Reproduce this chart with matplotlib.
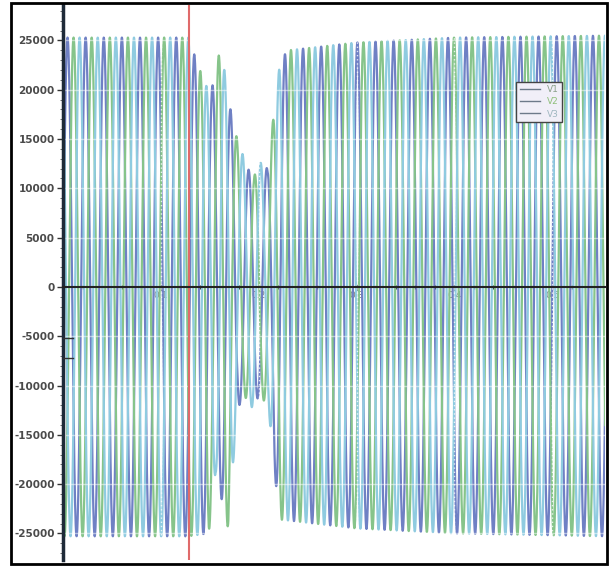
import numpy as np
import matplotlib
matplotlib.use("Agg")
import matplotlib.pyplot as plt
from matplotlib.patches import Rectangle
from matplotlib.ticker import MultipleLocator, FixedLocator

# ---- data ----
series_names = ["V1", "V2", "V3"]
series_colors = ["#6f80c4", "#86c48a", "#8fcbe0"]
phase_deg = [0.0, -120.0, 120.0]
freq_hz = 54.0

# upper (positive peak) envelope keypoints
env_up_t = [0.0, 0.128, 0.140, 0.149, 0.156, 0.161, 0.169, 0.178, 0.189,
            0.195, 0.202, 0.209, 0.215, 0.222, 0.230, 0.300, 0.400, 0.555]
env_up_v = [25300, 25300, 22000, 19800, 21000, 25000, 19000, 15000, 12000,
            11200, 12600, 12000, 17200, 23000, 24000, 24800, 25300, 25500]
# lower (negative peak) envelope keypoints (magnitude)
env_dn_t = [0.0, 0.128, 0.149, 0.156, 0.169, 0.178, 0.185, 0.195, 0.200,
            0.210, 0.215, 0.222, 0.300, 0.400, 0.555]
env_dn_v = [25300, 25300, 25000, 18800, 24600, 12500, 11000, 12500, 11000,
            12000, 18000, 23600, 24500, 25000, 25300]

marker_t = 0.1286
ytick_vals = list(range(-25000, 25001, 5000))
xtick_vals = [0.1, 0.2, 0.3, 0.4, 0.5]

# ---- figure ----
W, H = 611, 567
fig = plt.figure(figsize=(W / 100, H / 100), dpi=100)
ax = fig.add_axes([63 / W, 1 - 560 / H, (605 - 63) / W, (560 - 5) / H])

t = np.arange(0, 0.556, 0.0002)
up = np.interp(t, env_up_t, env_up_v)
dn = np.interp(t, env_dn_t, env_dn_v)
for name, col, ph in zip(series_names, series_colors, phase_deg):
    s = np.sin(2 * np.pi * freq_hz * t + np.deg2rad(ph))
    v = np.where(s >= 0, s * up, s * dn)
    ax.plot(t, v, color=col, lw=1.6, label=name, zorder=2)

ax.set_xlim(0, 0.554)
ax.set_ylim(-27700, 28600)

# grid (white, on top of the curves)
for yv in ytick_vals:
    if yv != 0:
        ax.axhline(yv, color="white", lw=1.0, alpha=0.5, zorder=3)
for xv in xtick_vals:
    ax.axvline(xv, color="white", lw=1.0, ls=(0, (1, 2)), alpha=0.8, zorder=3)

# red marker line
ax.axvline(marker_t, color="#e06a6a", lw=1.5, zorder=4)

# spines
for sp in ["top", "right"]:
    ax.spines[sp].set_visible(False)
ax.spines["left"].set_linewidth(2.5)
ax.spines["left"].set_color("#1e2a38")
ax.spines["left"].set_zorder(5)
ax.spines["bottom"].set_position(("data", 0))
ax.spines["bottom"].set_linewidth(1.5)
ax.spines["bottom"].set_color("#222222")
ax.spines["bottom"].set_zorder(5)

ax.yaxis.set_major_locator(FixedLocator(ytick_vals))
ax.yaxis.set_minor_locator(MultipleLocator(1000))
ax.set_yticklabels([str(v) for v in ytick_vals], fontweight="semibold")
ax.tick_params(axis="y", which="major", direction="out", length=4, width=1,
               color="#333333", labelsize=7.5, labelcolor="#4a4a4a", pad=2)
ax.tick_params(axis="y", which="minor", direction="out", length=2, width=0.6,
               color="#555555")

ax.xaxis.set_major_locator(FixedLocator(xtick_vals))
ax.xaxis.set_minor_locator(MultipleLocator(0.02))
ax.set_xticklabels([f"{v:.1f}" for v in xtick_vals])
ax.tick_params(axis="x", which="major", direction="inout", length=4, width=1,
               color="#333333", labelsize=6.5, labelcolor="#777777", pad=1)
ax.tick_params(axis="x", which="minor", direction="inout", length=3, width=1,
               color="#333333")

# small bracket marks near the left axis
ax.plot([0, 0.010], [-5200, -5200], color="#333333", lw=1, zorder=6, clip_on=False)
ax.plot([0, 0.010], [-7200, -7200], color="#333333", lw=1, zorder=6, clip_on=False)

leg = ax.legend(loc="upper left", bbox_to_anchor=(0.828, 0.870),
                fontsize=6.5, handlelength=2.2, frameon=True, fancybox=False,
                borderpad=0.4, labelspacing=0.35, handletextpad=0.8)
leg.get_frame().set_facecolor("#f1eff8")
leg.get_frame().set_edgecolor("#444444")
leg.get_frame().set_linewidth(1.0)
leg.get_frame().set_alpha(1.0)
leg.set_zorder(10)
for txt, c in zip(leg.get_texts(), ["#8aa08a", "#8fbf7a", "#9fb7c0"]):
    txt.set_color(c)
for ln in leg.get_lines():
    ln.set_color("#6d7a8a")
    ln.set_linewidth(1.0)

# outer frame
fig.patches.append(Rectangle((11 / W, 3 / H), (607 - 11) / W, (564 - 3) / H,
                             transform=fig.transFigure, fill=False,
                             edgecolor="black", lw=2))

fig.savefig("out.png", dpi=100)
